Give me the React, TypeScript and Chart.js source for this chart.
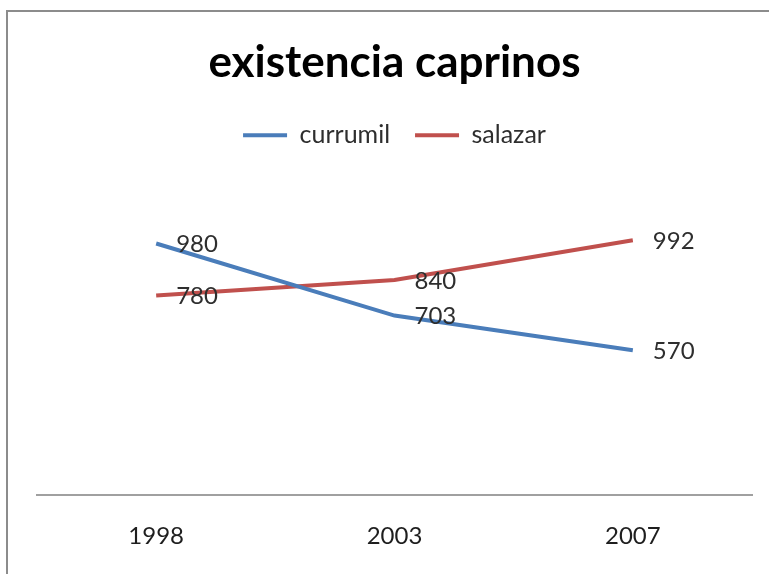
import React, { useEffect, useRef } from "react";
import { Chart, registerables } from "chart.js";

Chart.register(...registerables);

const titleText = "existencia caprinos";
const years = ["1998", "2003", "2007"];
const currumil = [980, 703, 570];
const salazar = [780, 840, 992];

const BLUE = "#4A7DBA";
const RED = "#C0504D";
const FONT = 'Lato, "Open Sans", "Noto Sans", sans-serif';

export default function App() {
  const ref = useRef<HTMLCanvasElement>(null);

  useEffect(() => {
    if (!ref.current) return;

    const frame = {
      id: "frame",
      beforeDraw(chart: any) {
        const { ctx } = chart;
        ctx.save();
        ctx.fillStyle = "#ffffff";
        ctx.fillRect(0, 0, chart.width, chart.height);
        ctx.strokeStyle = "#8c8c8c";
        ctx.lineWidth = 2;
        ctx.beginPath();
        ctx.moveTo(7, chart.height + 5);
        ctx.lineTo(7, 11);
        ctx.lineTo(chart.width + 5, 11);
        ctx.stroke();
        ctx.restore();
      },
    };

    const valueLabels = {
      id: "valueLabels",
      afterDatasetsDraw(chart: any) {
        const { ctx } = chart;
        ctx.save();
        ctx.font = `24px ${FONT}`;
        ctx.fillStyle = "#2e2e2e";
        ctx.textAlign = "left";
        ctx.textBaseline = "middle";
        chart.data.datasets.forEach((ds: any, i: number) => {
          const meta = chart.getDatasetMeta(i);
          meta.data.forEach((el: any, j: number) => {
            ctx.fillText(String(ds.data[j]), el.x + 20, el.y + 1);
          });
        });
        ctx.restore();
      },
    };

    const chart = new Chart(ref.current, {
      type: "line",
      data: {
        labels: years,
        datasets: [
          {
            label: "currumil",
            data: currumil,
            borderColor: BLUE,
            backgroundColor: BLUE,
            borderWidth: 4,
            pointRadius: 0,
            tension: 0,
          },
          {
            label: "salazar",
            data: salazar,
            borderColor: RED,
            backgroundColor: RED,
            borderWidth: 4,
            pointRadius: 0,
            tension: 0,
          },
        ],
      },
      options: {
        responsive: false,
        animation: false,
        layout: { padding: { left: 37, right: 17, top: 0, bottom: 0 } },
        plugins: {
          title: {
            display: true,
            text: titleText,
            color: "#000000",
            font: { family: FONT, size: 44, weight: "bold" },
            padding: { top: 36, bottom: 9 },
          },
          legend: {
            position: "top",
            labels: {
              usePointStyle: true,
              pointStyle: "line",
              pointStyleWidth: 44,
              padding: 25,
              color: "#2e2e2e",
              font: { family: FONT, size: 25 },
            },
          },
          tooltip: { enabled: false },
        },
        scales: {
          x: {
            offset: true,
            grid: { display: false, drawTicks: false },
            border: { display: true, color: "#a0a0a0", width: 2 },
            ticks: { padding: 27, color: "#1e1e1e", font: { family: FONT, size: 24 } },
            afterFit: (axis: any) => {
              axis.height = 79;
            },
          },
          y: { display: false, min: 14, max: 1309 },
        },
      },
      plugins: [frame, valueLabels],
    } as any);

    return () => chart.destroy();
  }, []);

  return (
    <div style={{ position: "absolute", left: 0, top: 0, width: 769, height: 574 }}>
      <canvas ref={ref} width={769} height={574} />
    </div>
  );
}
